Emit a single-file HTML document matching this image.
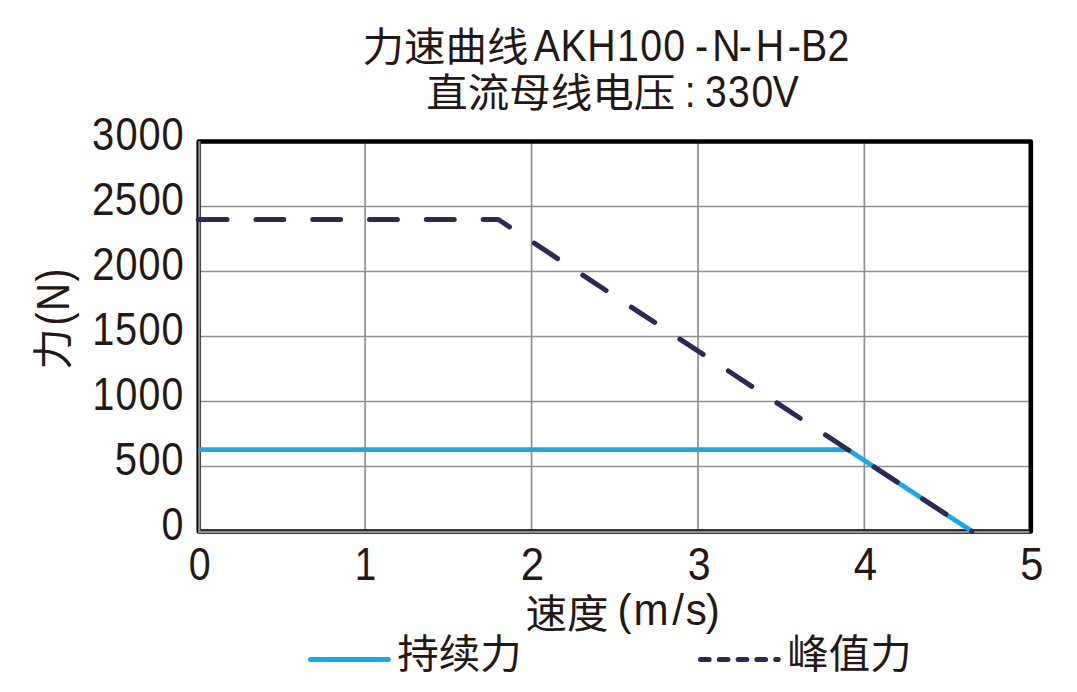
<!DOCTYPE html>
<html lang="zh-CN">
<head>
<meta charset="utf-8">
<title>力速曲线 AKH100-N-H-B2</title>
<style>
html,body{margin:0;padding:0;background:#fff;}
body{width:1077px;height:692px;overflow:hidden;}
svg{display:block;}
text{font-family:"Liberation Sans", "Noto Sans CJK SC", sans-serif;fill:#231815;font-size:41.5px;}
</style>
</head>
<body>
<svg width="1077" height="692" viewBox="0 0 1077 692">
<rect x="0" y="0" width="1077" height="692" fill="#ffffff"/>
<g stroke="#8e9093" stroke-width="1.7" fill="none">
<line x1="365.16" y1="141.5" x2="365.16" y2="531.5"/>
<line x1="531.57" y1="141.5" x2="531.57" y2="531.5"/>
<line x1="697.98" y1="141.5" x2="697.98" y2="531.5"/>
<line x1="864.39" y1="141.5" x2="864.39" y2="531.5"/>
<line x1="198.75" y1="466.50" x2="1030.8" y2="466.50"/>
<line x1="198.75" y1="401.50" x2="1030.8" y2="401.50"/>
<line x1="198.75" y1="336.50" x2="1030.8" y2="336.50"/>
<line x1="198.75" y1="271.50" x2="1030.8" y2="271.50"/>
<line x1="198.75" y1="206.50" x2="1030.8" y2="206.50"/>
</g>
<rect x="198.75" y="141.5" width="832.05" height="390.00" fill="none" stroke="#000" stroke-width="4.6" stroke-linejoin="round"/>
<path d="M199.35 141.20 V531.90 H1029.30" fill="none" stroke="#8e9093" stroke-width="2.3"/>
<path d="M198.45 449.6 L847.80 449.6 L971.9 531.3" fill="none" stroke="#1ea7e0" stroke-width="4.8" stroke-linejoin="round"/>
<g stroke="#2b2a55" stroke-width="5" stroke-linecap="round" stroke-linejoin="round" fill="none">
<path d="M198.25 219.5 H227.00"/>
<path d="M255.90 219.5 H283.80"/>
<path d="M312.70 219.5 H340.60"/>
<path d="M369.50 219.5 H397.40"/>
<path d="M426.30 219.5 H454.20"/>
<path d="M483.10 219.5 L498.3 219.5 L509.49 226.87"/>
<path d="M534.30 243.20 L557.60 258.54"/>
<path d="M582.83 275.15 L606.13 290.49"/>
<path d="M631.35 307.10 L654.66 322.44"/>
<path d="M679.88 339.05 L703.18 354.39"/>
<path d="M728.41 370.99 L751.71 386.34"/>
<path d="M776.94 402.94 L800.24 418.28"/>
<path d="M825.46 434.89 L848.77 450.23"/>
<path d="M873.99 466.84 L897.29 482.18"/>
<path d="M922.52 498.79 L945.82 514.13"/>
<path d="M971.65 531.14 L971.9 531.3"/>
</g>
<line x1="310.5" y1="659.4" x2="388.3" y2="659.4" stroke="#1ea7e0" stroke-width="5" stroke-linecap="round"/>
<line x1="700.5" y1="659.4" x2="778.3" y2="659.4" stroke="#2b2a55" stroke-width="5" stroke-linecap="round" stroke-dasharray="8.7 10.1"/>
<text transform="translate(362.50 60.75) scale(1.0000 0.9670)">力速曲线</text>
<text transform="translate(426.20 106.50) scale(1.0000 0.9670)">直流母线电压</text>
<text transform="translate(525.60 627.60) scale(1.0000 0.9670)">速度</text>
<text transform="translate(397.30 668.30) scale(1.0000 0.9670)">持续力</text>
<text transform="translate(787.30 668.30) scale(1.0000 0.9670)">峰值力</text>
<text transform="rotate(-90) translate(-369.80 67.30) scale(1.0000 0.9670)">力</text>
<text transform="translate(534.35 60.97) scale(0.9474 1.0824)" x="-0.55 27.60 55.89 87.36 111.77 136.08 157.61 169.51 187.67 215.74 233.82 267.46 281.35 309.42">AKH100 -N-H-B2</text>
<text transform="translate(684.40 106.97) scale(0.9424 1.0824)" x="0.35 9.02 21.89 46.33 71.18 93.64">: 330V</text>
<text transform="translate(161.47 540.48) scale(0.9500 1.1011)">0</text>
<text transform="translate(114.90 475.48) scale(0.9664 1.1011)" x="-0.12 24.23 48.06">500</text>
<text transform="translate(91.90 410.48) scale(0.9453 1.1011)" x="0.57 25.03 49.39 73.75">1000</text>
<text transform="translate(91.90 345.48) scale(0.9579 1.1011)" x="0.40 24.03 48.59 72.63">1500</text>
<text transform="translate(91.90 280.48) scale(0.9652 1.1011)" x="0.29 24.28 48.14 72.00">2000</text>
<text transform="translate(91.90 215.48) scale(0.9777 1.1011)" x="0.13 23.31 47.38 70.93">2500</text>
<text transform="translate(91.90 150.48) scale(0.9592 1.1011)" x="0.09 24.50 48.51 72.52">3000</text>
<text transform="translate(188.72 580.28) scale(0.9500 1.1011)">0</text>
<text transform="translate(354.79 580.30) scale(0.9296 1.1024)">1</text>
<text transform="translate(520.82 580.30) scale(1.0132 1.1017)">2</text>
<text transform="translate(687.65 580.28) scale(0.9873 1.1011)">3</text>
<text transform="translate(853.78 580.30) scale(1.0120 1.1024)">4</text>
<text transform="translate(1020.20 580.28) scale(1.0000 1.1017)">5</text>
<text transform="translate(617.65 624.70) scale(1.0160 1.0800)" x="-0.13 15.62 53.75 66.99 86.79">(m/s)</text>
<text transform="rotate(-90) translate(-325.95 68.60) scale(0.9348 1.1000)" x="0.56 16.04 47.65">(N)</text>
</svg>
</body>
</html>
